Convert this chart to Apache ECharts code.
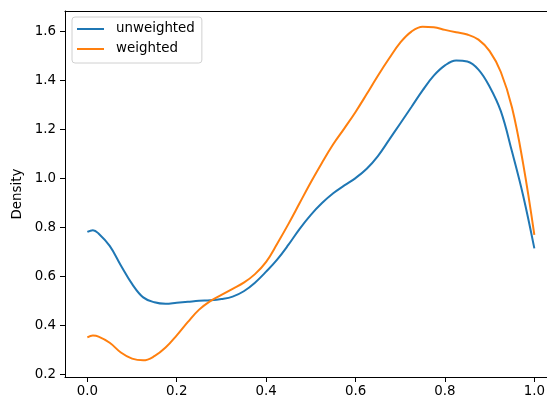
<!DOCTYPE html>
<html>
<head>
<meta charset="utf-8">
<script src="https://cdn.jsdelivr.net/npm/echarts@6/dist/echarts.min.js"></script>
<style>html,body{margin:0;padding:0;background:#fff;overflow:hidden;}#c{width:547px;height:400px;}</style>
</head>
<body>
<div id="c"></div>
<script>
const xs = [0.000,0.0125,0.025,0.050,0.075,0.100,0.125,0.150,0.175,0.200,0.225,0.250,0.275,0.300,0.325,0.350,0.375,0.400,0.425,0.450,0.475,0.500,0.525,0.550,0.575,0.600,0.625,0.650,0.675,0.700,0.725,0.750,0.775,0.800,0.825,0.850,0.875,0.900,0.925,0.950,0.975,1.000];
const unweighted = [0.782,0.789,0.776,0.725,0.645,0.570,0.515,0.495,0.489,0.493,0.497,0.501,0.503,0.508,0.518,0.540,0.575,0.620,0.670,0.730,0.795,0.852,0.900,0.940,0.972,1.002,1.040,1.092,1.158,1.225,1.292,1.360,1.420,1.462,1.482,1.478,1.445,1.375,1.275,1.110,0.930,0.715];
const weighted = [0.352,0.359,0.355,0.330,0.290,0.265,0.258,0.275,0.310,0.360,0.415,0.465,0.500,0.525,0.550,0.575,0.610,0.660,0.735,0.815,0.900,0.985,1.065,1.140,1.205,1.272,1.345,1.420,1.490,1.555,1.600,1.620,1.618,1.607,1.597,1.588,1.567,1.520,1.435,1.290,1.060,0.770];
const xTicks = [0.0,0.2,0.4,0.6,0.8,1.0];
const yTicks = [0.2,0.4,0.6,0.8,1.0,1.2,1.4,1.6];
const seriesNames = ['unweighted','weighted'];
const seriesColors = ['#1f77b4','#ff7f0e'];

const FONT = 'DejaVu Sans';
const FS = 13.4;
const X_MIN = -0.05, X_MAX = 1.0283;
const chart = echarts.init(document.getElementById('c'), null, {renderer:'canvas'});
const zip = (a,b) => a.map((v,i)=>[v,b[i]]);
chart.setOption({
  animation:false,
  color:seriesColors,
  grid:{left:65, top:11, width:482, height:366, containLabel:false, outerBoundsMode:'none', show:false},
  legend:{
    orient:'vertical', left:72, top:17,
    padding:[4,7,6,5], itemGap:4, itemWidth:27, itemHeight:2, icon:'rect',
    borderColor:'#d0d0d0', borderWidth:1, borderRadius:3, backgroundColor:'rgba(255,255,255,0.8)',
    textStyle:{fontFamily:FONT, fontSize:FS, color:'#000', lineHeight:16, padding:[0,0,0,7]},
    data:seriesNames
  },
  xAxis:[{
    type:'value', min:X_MIN, max:X_MAX,
    axisLine:{show:true, onZero:false, lineStyle:{color:'#000', width:1}},
    axisTick:{show:true, length:5, customValues:xTicks, lineStyle:{color:'#000', width:1}},
    axisLabel:{customValues:xTicks, margin:8, fontFamily:FONT, fontSize:FS, color:'#000', formatter:v=>Number(v).toFixed(1)},
    splitLine:{show:false}
  },{
    type:'value', min:X_MIN, max:X_MAX, position:'top',
    axisLine:{show:true, onZero:false, lineStyle:{color:'#000', width:1}},
    axisTick:{show:false}, axisLabel:{show:false}, splitLine:{show:false}
  }],
  yAxis:{
    type:'value', min:0.19, max:1.684,
    name:'Density', nameLocation:'middle', nameGap:34,
    nameTextStyle:{fontFamily:FONT, fontSize:FS, color:'#000'},
    axisLine:{show:true, onZero:false, lineStyle:{color:'#000', width:1}},
    axisTick:{show:true, length:5, customValues:yTicks, lineStyle:{color:'#000', width:1}},
    axisLabel:{customValues:yTicks, margin:9, fontFamily:FONT, fontSize:FS, color:'#000', formatter:v=>Number(v).toFixed(1)},
    splitLine:{show:false}
  },
  series:seriesNames.map((name,i)=>({
    name:name, type:'line', data:zip(xs, i===0?unweighted:weighted), smooth:0.4, clip:false,
    showSymbol:false, symbol:'none', lineStyle:{color:seriesColors[i], width:2}, itemStyle:{color:seriesColors[i]}
  }))
});
</script>
</body>
</html>
